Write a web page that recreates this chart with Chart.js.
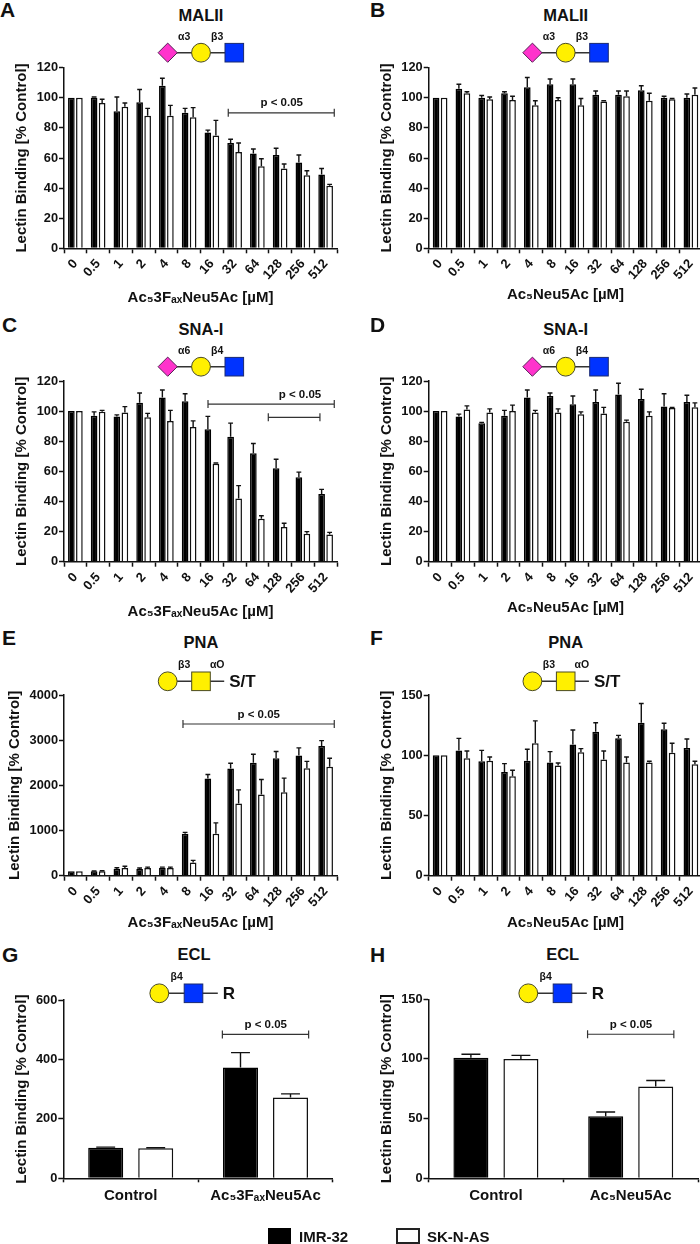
<!DOCTYPE html>
<html><head><meta charset="utf-8">
<script src="https://cdn.jsdelivr.net/npm/chart.js@4"></script>
<style>
html,body{margin:0;padding:0;background:#fff;width:700px;height:1244px;overflow:hidden}
#root{position:relative;width:700px;height:1244px;overflow:hidden;font-family:"Liberation Sans",Arial,sans-serif;font-weight:bold;color:#111}
canvas{position:absolute;display:block}
svg{position:absolute;left:0;top:0}
.t{position:absolute;white-space:nowrap;line-height:1}
.box{position:absolute;box-sizing:border-box;border:2px solid #222}
</style></head><body><div id="root"></div>
<script>
// ---------- categories and tick values ----------
const doses = ['0','0.5','1','2','4','8','16','32','64','128','256','512'];
const catsG = ['Control','Ac\u2085' + '3F\u2090\u2093Neu5Ac'];
const catsH = ['Control','Ac\u2085Neu5Ac'];
const seriesNames = ['IMR-32','SK-N-AS'];
const yTitle = 'Lectin Binding [% Control]';
const xTitleF = 'Ac\u2085' + '3F\u2090\u2093Neu5Ac [\u00B5M]';
const xTitleN = 'Ac\u2085Neu5Ac [\u00B5M]';

// ---------- values (bar height) and upper error limit ----------
const aBlack = [100,100,91,97,108,90,77,70,63,62,57,49];
const aBlackTop = [100,100.5,100.5,105.5,113,93,78.5,72.5,66,66.5,62,53];
const aWhite = [100,96.5,94,88,88,87,75,64,54.5,53,48.5,41.5];
const aWhiteTop = [100,99,96.5,93,95,93.5,85,70,59.5,56,51.5,42.5];

const bBlack = [100,106,100,103,107,109,109,102,102,105,100,100];
const bBlackTop = [100,109,101.5,104,113.5,112.5,112.5,104.5,104.5,108,101,102.5];
const bWhite = [100,103,99,98.5,95,98.5,95,97.5,101,98,99,102];
const bWhiteTop = [100,104,100.5,101,98,100,99.5,98,104.5,103,99.5,106.5];

const cBlack = [100,97,96.5,105.5,109,106.5,88,83,72,62,56,45];
const cBlackTop = [100,99.5,97.5,112,114,111.5,96.5,92,78.5,68,59.5,48];
const cWhite = [100,99.5,99,96,93.5,89.5,65,42,28.5,23,18.5,18];
const cWhiteTop = [100,100.5,103,98.5,100.5,93.5,65.5,50.5,30.5,25.5,20,19.5];

const dBlack = [100,96.5,92,97,109,110,104.5,106,111,108,103,106];
const dBlackTop = [100,98,92.5,100.5,114,112,110,114,118.5,114.5,111.5,110.5];
const dWhite = [100,101,99,100,99,99,98,98.5,93,97,102,102.5];
const dWhiteTop = [100,103.5,101.5,104,100.5,101.5,99.5,102.5,94,99.5,102.5,105.5];

const eBlack = [100,100,150,150,175,930,2150,2375,2500,2600,2660,2870];
const eBlackTop = [100,105,175,170,190,960,2240,2490,2690,2750,2830,2990];
const eWhite = [100,100,170,170,170,290,930,1600,1800,1850,2380,2410];
const eWhiteTop = [100,110,210,190,190,340,1170,1900,2130,2160,2530,2600];

const fBlack = [100,104,95,86,95.5,94,109,119.5,114,127,121.5,106];
const fBlackTop = [100,114,104,93,105,103,121,127,116.5,143,126.5,113.5];
const fWhite = [100,97.5,95.5,82.5,110,91.5,102.5,96.5,94,94,102,92.5];
const fWhiteTop = [100,103.5,98.5,87.5,128.5,93.5,105.5,103.5,98.5,95,110,95];

const gBlack = [103,373];
const gBlackTop = [105,423];
const gWhite = [101,272];
const gWhiteTop = [103,284];

const hBlack = [101,52];
const hBlackTop = [104,55.5];
const hWhite = [100,77];
const hWhiteTop = [103,82];

// ---------- layout of the panels ----------
const panels = [
 {id:'A',lab:doses,k:aBlack,kt:aBlackTop,w:aWhite,wt:aWhiteTop,max:120,step:20,x:64,top:67.7,zero:248.3,cw:22.75,xt:xTitleF,xty:298,ytx:21.7,L:0,
  title:'MALII',tx:201,ty:15.7,lx:0,ly:17,br:[[6.72,11.38,90,281.7,102.7]],gl:{k:'sia',a:'\u03B13',b:'\u03B23',x:167.7,y:52.7}},
 {id:'B',lab:doses,k:bBlack,kt:bBlackTop,w:bWhite,wt:bWhiteTop,max:120,step:20,x:428.7,top:67.7,zero:248.3,cw:22.8,xt:xTitleN,xty:295,ytx:386.7,L:350,
  title:'MALII',tx:565.7,ty:15.7,lx:370,ly:17,br:[],gl:{k:'sia',a:'\u03B13',b:'\u03B23',x:532.4,y:52.7}},
 {id:'C',lab:doses,k:cBlack,kt:cBlackTop,w:cWhite,wt:cWhiteTop,max:120,step:20,x:64,top:381,zero:561.7,cw:22.75,xt:xTitleF,xty:611.7,ytx:21.7,L:0,
  title:'SNA-I',tx:201,ty:329.3,lx:2,ly:331.7,br:[[5.83,11.38,104.7,300,394.3],[8.48,10.75,95.9,null,null]],gl:{k:'sia',a:'\u03B16',b:'\u03B24',x:167.7,y:366.7}},
 {id:'D',lab:doses,k:dBlack,kt:dBlackTop,w:dWhite,wt:dWhiteTop,max:120,step:20,x:428.7,top:381,zero:561.7,cw:22.8,xt:xTitleN,xty:608,ytx:386.7,L:350,
  title:'SNA-I',tx:565.7,ty:329.3,lx:370,ly:331.7,br:[],gl:{k:'sia',a:'\u03B16',b:'\u03B24',x:532.4,y:366.7}},
 {id:'E',lab:doses,k:eBlack,kt:eBlackTop,w:eWhite,wt:eWhiteTop,max:4000,step:1000,x:64,top:695,zero:875.7,cw:22.75,xt:xTitleF,xty:923,ytx:15,L:0,
  title:'PNA',tx:201,ty:642.7,lx:2,ly:645,br:[[4.73,11.38,3358,258.7,714.3]],gl:{k:'pna',a:'\u03B23',b:'\u03B1O',x:167.7,y:681.3}},
 {id:'F',lab:doses,k:fBlack,kt:fBlackTop,w:fWhite,wt:fWhiteTop,max:150,step:50,x:428.7,top:695,zero:875.7,cw:22.8,xt:xTitleN,xty:922.5,ytx:386.7,L:350,
  title:'PNA',tx:565.7,ty:642.7,lx:370,ly:645,br:[],gl:{k:'pna',a:'\u03B23',b:'\u03B1O',x:532.4,y:681.3}},
 {id:'G',lab:catsG,k:gBlack,kt:gBlackTop,w:gWhite,wt:gWhiteTop,max:600,step:200,x:63.3,top:1000,zero:1178.3,cw:134.8,xt:'',xty:0,ytx:21.7,L:0,
  title:'ECL',tx:194,ty:954,lx:2,ly:961.7,br:[[0.68,1.32,484,265.7,1024.3]],gl:{k:'ecl',a:'\u03B24',x:159.3,y:993.3}},
 {id:'H',lab:catsH,k:hBlack,kt:hBlackTop,w:hWhite,wt:hWhiteTop,max:150,step:50,x:428.5,top:999.3,zero:1178.3,cw:134.8,xt:'',xty:0,ytx:386.7,L:350,
  title:'ECL',tx:562.7,ty:954,lx:370,ly:961.7,br:[[0.68,1.32,120.7,631,1024.3]],gl:{k:'ecl',a:'\u03B24',x:528.3,y:993.3}}
];

const INK = '#111';
const FONT = '"Liberation Sans", Arial, sans-serif';
const root = document.getElementById('root');

function text(str, x, y, size, anchor){
  const d = document.createElement('div');
  d.className = 't';
  d.textContent = str;
  d.style.fontSize = size + 'px';
  d.style.left = x + 'px';
  d.style.top = (y - size / 2) + 'px';
  d.style.transform = anchor === 'c' ? 'translateX(-50%)' : 'none';
  root.appendChild(d);
  return d;
}

// error bars and significance brackets are drawn from the data through the scales
const overlay = {
  id: 'overlay',
  afterDatasetsDraw(chart, args, opts) {
    const {ctx, scales:{x, y}} = chart;
    ctx.save();
    ctx.strokeStyle = INK; ctx.lineWidth = 1.4;
    chart.data.datasets.forEach((ds, di) => {
      const meta = chart.getDatasetMeta(di);
      ds.errTop.forEach((t, i) => {
        const el = meta.data[i];
        if (t <= ds.data[i]) return;
        const py = y.getPixelForValue(t), hw = el.width * opts.cap;
        ctx.beginPath();
        ctx.moveTo(el.x, el.y); ctx.lineTo(el.x, py);
        ctx.moveTo(el.x - hw, py); ctx.lineTo(el.x + hw, py);
        ctx.stroke();
      });
    });
    ctx.strokeStyle = '#333'; ctx.lineWidth = 1.2;
    opts.brackets.forEach(b => {
      const x0 = x.getPixelForValue(b[0]), x1 = x.getPixelForValue(b[1]), py = y.getPixelForValue(b[2]);
      ctx.beginPath();
      ctx.moveTo(x0, py); ctx.lineTo(x1, py);
      ctx.moveTo(x0, py - 4); ctx.lineTo(x0, py + 4);
      ctx.moveTo(x1, py - 4); ctx.lineTo(x1, py + 4);
      ctx.stroke();
    });
    ctx.restore();
  }
};

panels.forEach(p => {
  const two = p.lab.length === 2;
  const canvasTop = Math.floor(p.top) - 10;
  const canvasBottom = p.xt ? Math.ceil(p.xty + 9) : 1210;
  const c = document.createElement('canvas');
  const W = Math.ceil(p.x - p.L + p.cw * p.lab.length + 6);
  c.width = W; c.height = canvasBottom - canvasTop;
  c.style.left = p.L + 'px'; c.style.top = canvasTop + 'px';
  c.style.width = W + 'px'; c.style.height = (canvasBottom - canvasTop) + 'px';
  root.appendChild(c);
  const yW = p.x - p.L;
  new Chart(c, {
    type: 'bar',
    plugins: [overlay],
    data: {
      labels: p.lab,
      datasets: [
        {label: seriesNames[0], data: p.k, errTop: p.kt, backgroundColor: '#000', borderColor: '#000', borderWidth: 1.5},
        {label: seriesNames[1], data: p.w, errTop: p.wt, backgroundColor: '#fff', borderColor: '#111', borderWidth: 1.5}
      ]
    },
    options: {
      responsive: false, animation: false,
      devicePixelRatio: 1,
      layout: {padding: {top: p.top - canvasTop, right: W - yW - p.cw * p.lab.length, left: 0, bottom: 0}},
      datasets: {bar: {categoryPercentage: two ? 0.742 : 0.705, barPercentage: two ? 0.7 : 0.83}},
      plugins: {legend: {display: false}, title: {display: false}, tooltip: {enabled: false},
        overlay: {cap: two ? 0.27 : 0.36, brackets: p.br}},
      scales: {
        x: {
          type: 'category', offset: true,
          afterFit: s => { s.height = canvasBottom - p.zero; },
          border: {display: true, color: INK, width: 1.5},
          grid: {display: true, drawOnChartArea: false, drawTicks: true, tickLength: two ? 4 : 5, tickWidth: 1.5, tickColor: INK},
          ticks: two
            ? {color: INK, font: {family: FONT, size: 15, weight: 'bold'}, padding: 5, maxRotation: 0, minRotation: 0, autoSkip: false}
            : {color: INK, font: {family: FONT, size: 13, weight: 'bold'}, padding: 3, maxRotation: 48, minRotation: 48, autoSkip: false},
          title: {display: !!p.xt, text: p.xt, color: INK, font: {family: FONT, size: 15, weight: 'bold'},
            padding: {top: 0, bottom: p.xt ? canvasBottom - p.xty - 9 : 0}}
        },
        y: {
          min: 0, max: p.max,
          afterFit: s => { s.width = yW; },
          border: {display: true, color: INK, width: 1.5},
          grid: {display: true, drawOnChartArea: false, drawTicks: true, tickLength: 5, tickWidth: 1.5, tickColor: INK},
          ticks: {stepSize: p.step, color: INK, font: {family: FONT, size: 12.8, weight: 'bold'}, padding: 1, callback: v => String(v)},
          title: {display: true, text: yTitle, color: INK, font: {family: FONT, size: 15, weight: 'bold'},
            padding: {top: p.ytx - p.L - 9, bottom: 0}}
        }
      }
    }
  });

  // panel letter, title, p label
  text(p.id, p.lx, p.ly - 7.5, 21);
  text(p.title, p.tx, p.ty, 16.5, 'c');
  p.br.forEach(b => { if (b[3] !== null) text('p < 0.05', b[3], b[4], 11.5, 'c'); });
});

// ---------- glycan symbols ----------
const NS = 'http://www.w3.org/2000/svg';
const svg = document.createElementNS(NS, 'svg');
svg.setAttribute('width', 700); svg.setAttribute('height', 1244);
root.appendChild(svg);
function el(name, attrs, parent){
  const e = document.createElementNS(NS, name);
  for (const k in attrs) e.setAttribute(k, attrs[k]);
  (parent || svg).appendChild(e);
  return e;
}
const edge = '#4a4a20';
const YEL = '#fff000';
function line(x1, x2, y){ el('line', {x1, x2, y1:y, y2:y, stroke:'#333', 'stroke-width':1.4}); }
function circle(x, y){ el('circle', {cx:x, cy:y, r:9.4, fill:YEL, stroke:edge, 'stroke-width':1}); }
function square(x, y, fill){ el('rect', {x:x-9.3, y:y-9.3, width:18.6, height:18.6, fill, stroke:fill === YEL ? edge : '#1a2a70', 'stroke-width':1}); }
function diamond(x, y){ const r = 9.6; el('polygon', {points:`${x-r},${y} ${x},${y-r} ${x+r},${y} ${x},${y+r}`, fill:'#ff33cc', stroke:'#552255', 'stroke-width':1}); }
function label(s, x, y, size, anchor){
  const t = el('text', {x, y: y + size * 0.36, 'font-size': size, 'font-weight':'bold', 'font-family':FONT, fill:INK, 'text-anchor':anchor || 'middle'});
  t.textContent = s;
}
panels.forEach(p => {
  const g = p.gl;
  if (g.k === 'sia') {
    line(g.x, g.x + 66, g.y);
    diamond(g.x, g.y); circle(g.x + 33.3, g.y); square(g.x + 66.6, g.y, '#0033ff');
    label(g.a, g.x + 16.5, g.y - 16, 10.5); label(g.b, g.x + 49.5, g.y - 16, 10.5);
  } else if (g.k === 'pna') {
    line(g.x, g.x + 56.5, g.y);
    circle(g.x, g.y); square(g.x + 33.3, g.y, YEL);
    label(g.a, g.x + 16.5, g.y - 17, 10.5); label(g.b, g.x + 49.5, g.y - 17, 10.5);
    label('S/T', g.x + 61.5, g.y, 17, 'start');
  } else {
    line(g.x, g.x + 58.5, g.y);
    circle(g.x, g.y); square(g.x + 34.2, g.y, '#0033ff');
    label(g.a, g.x + 17.3, g.y - 16.6, 10.5);
    label('R', g.x + 63.5, g.y, 17, 'start');
  }
});

// ---------- legend ----------
const k1 = document.createElement('div'); k1.className = 'box';
k1.style.cssText = 'left:268px;top:1228px;width:23px;height:15.5px;background:#000;border-color:#000';
root.appendChild(k1);
text(seriesNames[0], 299, 1236.5, 15);
const k2 = document.createElement('div'); k2.className = 'box';
k2.style.cssText = 'left:396px;top:1228px;width:24px;height:15.5px;background:#fff';
root.appendChild(k2);
text(seriesNames[1], 427, 1236.5, 15);
</script></body></html>
